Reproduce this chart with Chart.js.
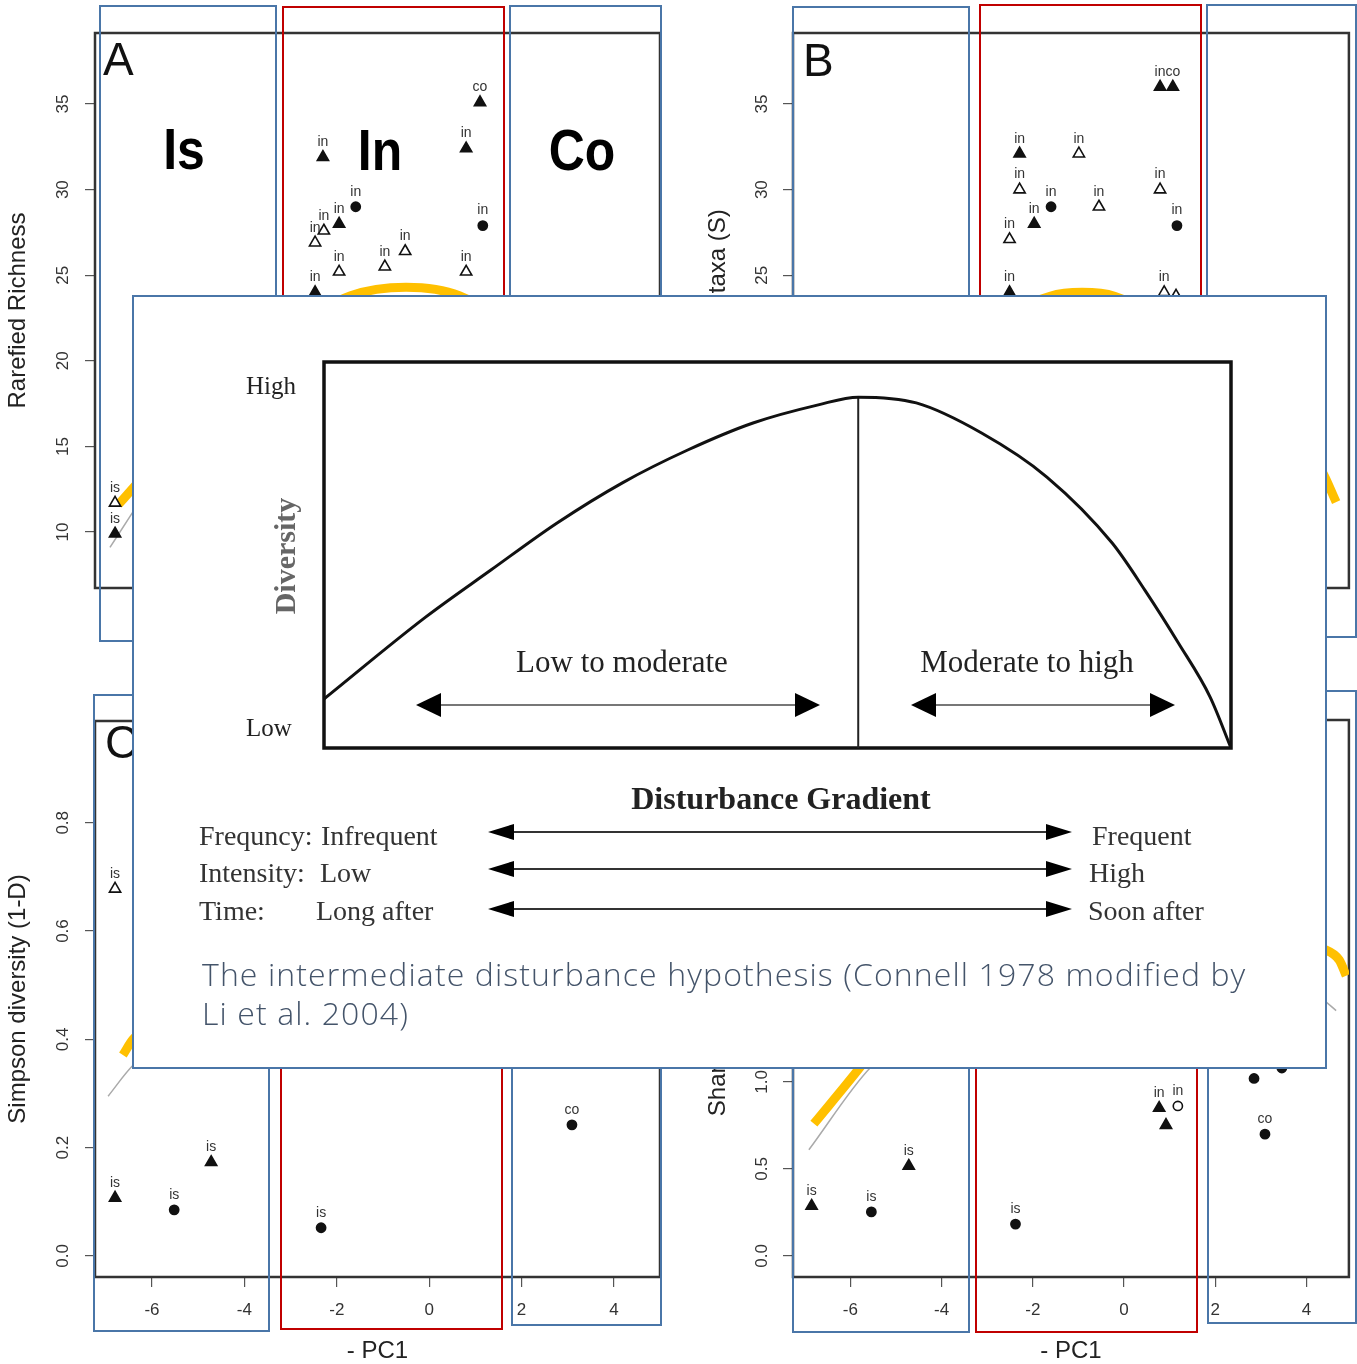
<!DOCTYPE html>
<html lang="en">
<head>
<meta charset="UTF-8">
<title>Intermediate disturbance hypothesis</title>
<script src="https://cdn.jsdelivr.net/npm/chart.js"></script>
<style>
    body {
        margin: 0;
        width: 1357px;
        height: 1364px;
        overflow: hidden;
        position: relative;
        background: #fff;
        font-family: 'Liberation Sans', Arial, sans-serif;
    }
    canvas { position: absolute; }
    .panel { z-index: 1; }
    .box {
        position: absolute;
        box-sizing: border-box;
        border: 2.5px solid #4a76a8;
        z-index: 2;
    }
    .box.red { border-color: #c00000; }
    .t { position: absolute; white-space: nowrap; line-height: 1; transform: translateY(-50%); }
    .tc { transform: translate(-50%, -50%); }
    .big { z-index: 3; font-weight: bold; font-size: 58px; color: #000; transform: translate(-50%, -50%) scaleX(0.86); }
    .letter { position: absolute; z-index: 3; font-size: 46px; line-height: 1; color: #111; }
    #overlay {
        position: absolute;
        left: 132px; top: 295px; width: 1195px; height: 774px;
        box-sizing: border-box;
        border: 2.5px solid #4a76a8;
        background: #fff;
        z-index: 5;
    }
    #diagram { z-index: 6; }
    #arrows { position: absolute; left: 0; top: 0; z-index: 7; }
    .serif { font-family: 'Liberation Serif', 'Times New Roman', serif; color: #222; z-index: 8; }
    .cap { font-family: 'Open Sans', 'Noto Sans', sans-serif; font-weight: 300; font-size: 32px; letter-spacing: 1.1px; color: #44546a; z-index: 8; }
</style>
</head>
<body>
    <canvas id="panelA" class="panel" width="680" height="680" style="left:0;top:0"></canvas>
    <canvas id="panelB" class="panel" width="657" height="680" style="left:700px;top:0"></canvas>
    <canvas id="panelC" class="panel" width="680" height="686" style="left:0;top:680px"></canvas>
    <canvas id="panelD" class="panel" width="657" height="686" style="left:700px;top:680px"></canvas>

    <!-- Is / In / Co zone boxes -->
    <div class="box" style="left:99px;top:5px;width:178px;height:637px"></div>
    <div class="box red" style="left:282px;top:6px;width:223px;height:700px"></div>
    <div class="box" style="left:509px;top:5px;width:153px;height:700px"></div>
    <div class="box" style="left:792px;top:6px;width:178px;height:700px"></div>
    <div class="box red" style="left:979px;top:4px;width:223px;height:700px"></div>
    <div class="box" style="left:1206px;top:4px;width:151px;height:634px"></div>
    <div class="box" style="left:93px;top:694px;width:177px;height:638px"></div>
    <div class="box red" style="left:280px;top:900px;width:223px;height:430px"></div>
    <div class="box" style="left:511px;top:900px;width:151px;height:426px"></div>
    <div class="box" style="left:792px;top:900px;width:178px;height:433px"></div>
    <div class="box red" style="left:975px;top:900px;width:223px;height:433px"></div>
    <div class="box" style="left:1207px;top:690px;width:150px;height:634px"></div>

    <div class="t big" style="left:184px;top:149px">Is</div>
    <div class="t big" style="left:380px;top:150px">In</div>
    <div class="t big" style="left:582px;top:150px">Co</div>
    <div class="letter" style="left:103px;top:36px">A</div>
    <div class="letter" style="left:803px;top:37px">B</div>
    <div class="letter" style="left:105px;top:719px">C</div>

    <div id="overlay"></div>
    <canvas id="diagram" width="1193" height="772" style="left:133px;top:296px"></canvas>

    <svg id="arrows" width="1357" height="1364">
        <g stroke="#777" stroke-width="2">
            <line x1="440" y1="705" x2="795" y2="705"/>
            <line x1="936" y1="705" x2="1150" y2="705"/>
        </g>
        <g fill="#000">
            <polygon points="416,705 441,693 441,717"/>
            <polygon points="820,705 795,693 795,717"/>
            <polygon points="911,705 936,693 936,717"/>
            <polygon points="1175,705 1150,693 1150,717"/>
        </g>
        <g stroke="#333" stroke-width="2.2">
            <line x1="510" y1="832" x2="1050" y2="832"/>
            <line x1="510" y1="869" x2="1050" y2="869"/>
            <line x1="510" y1="909" x2="1050" y2="909"/>
        </g>
        <g fill="#000">
            <polygon points="488,832 514,824 514,840"/>
            <polygon points="1072,832 1046,824 1046,840"/>
            <polygon points="488,869 514,861 514,877"/>
            <polygon points="1072,869 1046,861 1046,877"/>
            <polygon points="488,909 514,901 514,917"/>
            <polygon points="1072,909 1046,901 1046,917"/>
        </g>
    </svg>

    <div class="t serif" style="left:246px;top:385px;font-size:25px">High</div>
    <div class="t serif" style="left:246px;top:727px;font-size:25px">Low</div>
    <div class="t serif" style="left:285px;top:556px;font-size:30px;font-weight:bold;color:#666;transform:translate(-50%,-50%) rotate(-90deg)">Diversity</div>
    <div class="t tc serif" style="left:622px;top:661px;font-size:31px">Low to moderate</div>
    <div class="t tc serif" style="left:1027px;top:661px;font-size:31px">Moderate to high</div>
    <div class="t tc serif" style="left:781px;top:798px;font-size:32px;font-weight:bold">Disturbance Gradient</div>
    <div class="t serif" style="left:199px;top:836px;font-size:28px;color:#333">Frequncy:</div>
    <div class="t serif" style="left:321px;top:836px;font-size:28px;color:#333">Infrequent</div>
    <div class="t serif" style="left:199px;top:873px;font-size:28px;color:#333">Intensity:</div>
    <div class="t serif" style="left:320px;top:873px;font-size:28px;color:#333">Low</div>
    <div class="t serif" style="left:199px;top:911px;font-size:28px;color:#333">Time:</div>
    <div class="t serif" style="left:316px;top:911px;font-size:28px;color:#333">Long after</div>
    <div class="t serif" style="left:1092px;top:836px;font-size:28px;color:#333">Frequent</div>
    <div class="t serif" style="left:1089px;top:873px;font-size:28px;color:#333">High</div>
    <div class="t serif" style="left:1088px;top:911px;font-size:28px;color:#333">Soon after</div>
    <div class="t cap" style="left:202px;top:974px">The intermediate disturbance hypothesis (Connell 1978 modified by</div>
    <div class="t cap" style="left:202px;top:1013px">Li et al. 2004)</div>

<script>
    // tick values
    const xTicks = [-6, -4, -2, 0, 2, 4];
    const richTicks = [10, 15, 20, 25, 30, 35];
    const simpTicks = [0, 0.2, 0.4, 0.6, 0.8];
    const shanTicks = [0, 0.5, 1, 1.5, 2, 2.5, 3];

    // marker codes: T filled triangle, t open triangle, C filled circle, c open circle
    // A - rarefied richness
    const aX = [1.10, 0.80, -2.30, -1.59, -1.95, -2.28, -2.47, 1.16, -1.95, -0.96, -0.52, 0.80, -2.47, -6.80, -6.80];
    const aY = [35.1, 32.4, 31.9, 29.0, 28.0, 27.6, 26.9, 27.9, 25.2, 25.5, 26.4, 25.2, 24.0, 11.7, 9.9];
    const aMark = ['T', 'T', 'T', 'C', 'T', 't', 't', 'C', 't', 't', 't', 't', 'T', 't', 'T'];
    const aLab = ['co', 'in', 'in', 'in', 'in', 'in', 'in', 'in', 'in', 'in', 'in', 'in', 'in', 'is', 'is'];
    const aFitX = [-6.73, -6.40, -4.5, -3.0, -1.7, -0.5, 0.65, 2.5, 4.5];
    const aFitY = [11.6, 12.6, 18.3, 21.8, 23.8, 24.3, 23.8, 20.5, 14.0];
    const aLinX = [-6.91, -6.43, -4.0];
    const aLinY = [9.1, 11.1, 21.0];

    // B - number of taxa
    const bX = [0.79, 1.07, -2.29, -0.99, -2.29, -1.60, -1.97, -0.55, 0.79, 1.16, -2.51, -2.51, 0.88, 1.14];
    const bY = [36.0, 36.0, 32.1, 32.1, 30.0, 29.0, 28.0, 29.0, 30.0, 27.9, 27.1, 24.0, 24.0, 23.8];
    const bMark = ['T', 'T', 'T', 't', 't', 'C', 'T', 't', 't', 'C', 't', 'T', 't', 't'];
    const bLab = ['in', 'co', 'in', 'in', 'in', 'in', 'in', 'in', 'in', 'in', 'in', 'in', 'in', ''];
    const bFitX = [-6.8, -4.0, -1.62, -0.92, -0.21, 2.0, 3.6, 4.35, 4.65];
    const bFitY = [11.0, 20.5, 23.77, 24.0, 23.77, 20.5, 16.5, 13.5, 11.75];

    // C - Simpson diversity
    const cX = [-6.80, -6.80, -5.52, -4.72, -2.34, 3.09];
    const cY = [0.678, 0.107, 0.085, 0.173, 0.052, 0.242];
    const cMark = ['t', 'T', 'C', 'T', 'C', 'C'];
    const cLab = ['is', 'is', 'is', 'is', 'is', 'co'];
    const cFitX = [-6.63, -6.41, -4.5];
    const cFitY = [0.371, 0.400, 0.52];
    const cLinX = [-6.95, -6.41, -4.0];
    const cLinY = [0.295, 0.352, 0.50];

    // D - Shannon diversity
    const dX = [-6.85, -5.54, -4.72, -2.38, 0.77, 1.18, 0.92, 3.09, 2.85, 3.46];
    const dY = [0.287, 0.253, 0.517, 0.183, 0.85, 0.862, 0.752, 0.70, 1.02, 1.08];
    const dMark = ['T', 'C', 'T', 'C', 'T', 'c', 'T', 'C', 'C', 'C'];
    const dLab = ['is', 'is', 'is', 'is', 'in', 'in', '', 'co', '', ''];
    const dFitX = [-6.8, -5.8, -4.0, -1.0, 2.0, 4.33, 4.72, 4.87];
    const dFitY = [0.76, 1.08, 1.70, 2.20, 2.10, 1.77, 1.70, 1.61];
    const dLinX = [-6.91, -5.57, -3.0, 0.0, 3.0, 4.33, 4.65];
    const dLinY = [0.61, 1.08, 1.60, 1.85, 1.70, 1.48, 1.41];

    // conceptual diagram: diversity along the disturbance gradient (0-100)
    const gradX = [0, 11.2, 18.4, 25.7, 32.9, 40.1, 47.3, 54.5, 58.9, 65.3, 72.5, 79.7, 86.9, 90.5, 94.2, 97.7, 100];
    const divY = [12.7, 33.9, 46.1, 58.3, 68.7, 77.2, 84.2, 88.9, 90.9, 89.4, 81.6, 70.2, 53.1, 40.9, 27.2, 13.2, 0];
    const peakX = [58.9, 58.9];
    const peakY = [0, 90.9];

    Chart.defaults.font.family = "'Liberation Sans', Arial, sans-serif";

    const MARK = {
        T: ['triangle', '#111', 6.5],
        t: ['triangle', '#fff', 6.5],
        C: ['circle', '#111', 4.6],
        c: ['circle', '#fff', 4.6]
    };

    function pts(xs, ys) {
        return xs.map((x, i) => ({ x: x, y: ys[i] }));
    }

    // box around the plot region, R style
    const framePlugin = {
        id: 'frame',
        beforeDatasetsDraw(chart, args, opts) {
            const { ctx, chartArea: a } = chart;
            ctx.save();
            ctx.strokeStyle = opts.color || '#333';
            ctx.lineWidth = opts.width || 2.5;
            ctx.strokeRect(a.left, a.top, a.right - a.left, a.bottom - a.top);
            ctx.restore();
        }
    };

    // small site-type labels above each point
    const pointLabels = {
        id: 'ptlab',
        afterDatasetsDraw(chart, args, opts) {
            if (!opts.labels) return;
            const ctx = chart.ctx;
            const meta = chart.getDatasetMeta(0);
            ctx.save();
            ctx.font = "14px 'Liberation Sans', Arial, sans-serif";
            ctx.fillStyle = '#333';
            ctx.textAlign = 'center';
            ctx.textBaseline = 'middle';
            meta.data.forEach((el, i) => {
                if (opts.labels[i]) ctx.fillText(opts.labels[i], el.x, el.y - 15);
            });
            ctx.restore();
        }
    };

    function panel(id, o) {
        const datasets = [{
            data: pts(o.xs, o.ys),
            pointStyle: o.marks.map(m => MARK[m][0]),
            pointBackgroundColor: o.marks.map(m => MARK[m][1]),
            pointRadius: o.marks.map(m => MARK[m][2]),
            pointBorderColor: '#111',
            pointBorderWidth: 1.6,
            showLine: false
        }];
        o.curves.forEach(c => {
            datasets.push({
                data: pts(c.xs, c.ys),
                showLine: true,
                borderColor: c.color,
                borderWidth: c.width,
                pointRadius: 0,
                cubicInterpolationMode: 'monotone'
            });
        });

        new Chart(document.getElementById(id), {
            type: 'scatter',
            data: { datasets: datasets },
            options: {
                responsive: false,
                maintainAspectRatio: false,
                animation: false,
                events: [],
                layout: { padding: o.pad },
                plugins: {
                    legend: { display: false },
                    tooltip: { enabled: false },
                    frame: { color: '#333', width: 2.5 },
                    ptlab: { labels: o.labs }
                },
                scales: {
                    x: {
                        type: 'linear',
                        min: o.xMin,
                        max: o.xMax,
                        afterBuildTicks: s => { s.ticks = xTicks.map(v => ({ value: v })); },
                        afterFit: s => { s.height = o.xH; },
                        grid: { drawOnChartArea: false, drawTicks: true, tickLength: 10, color: '#555', lineWidth: 1.2 },
                        border: { display: false },
                        ticks: { color: '#333', font: { size: 17 }, padding: 13, maxRotation: 0, autoSkip: false, callback: v => String(v) },
                        title: { display: true, text: '- PC1', color: '#222', font: { size: 24 }, padding: 0 }
                    },
                    y: {
                        type: 'linear',
                        min: o.yMin,
                        max: o.yMax,
                        afterBuildTicks: s => { s.ticks = o.yTicks.map(v => ({ value: v })); },
                        afterFit: s => { s.width = o.yW; },
                        grid: { drawOnChartArea: false, drawTicks: true, tickLength: 10, color: '#555', lineWidth: 1.2 },
                        border: { display: false },
                        ticks: {
                            color: '#333', font: { size: 17 }, padding: o.yPad,
                            minRotation: 90, maxRotation: 90, crossAlign: 'center', autoSkip: false,
                            callback: v => v.toFixed(o.yDec)
                        },
                        title: { display: true, text: o.yTitle, color: '#222', font: { size: 24 }, padding: { top: 3.6, bottom: 0 } }
                    }
                }
            },
            plugins: [framePlugin, pointLabels]
        });
    }

    const YELLOW = '#ffc000';
    const GREY = '#aaa';

    panel('panelA', {
        xs: aX, ys: aY, marks: aMark, labs: aLab,
        curves: [
            { xs: aLinX, ys: aLinY, color: GREY, width: 1.5 },
            { xs: aFitX, ys: aFitY, color: YELLOW, width: 9 }
        ],
        xMin: -7.234, xMax: 4.996, yMin: 6.73, yMax: 39.15, yTicks: richTicks, yDec: 0,
        yTitle: 'Rarefied Richness',
        pad: { left: 0, top: 33, right: 20, bottom: 0 }, yW: 95, xH: 92, yPad: 12
    });

    panel('panelB', {
        xs: bX, ys: bY, marks: bMark, labs: bLab,
        curves: [
            { xs: bFitX, ys: bFitY, color: YELLOW, width: 9 }
        ],
        xMin: -7.258, xMax: 4.93, yMin: 6.73, yMax: 39.15, yTicks: richTicks, yDec: 0,
        yTitle: 'Number of taxa (S)',
        pad: { left: 0, top: 33, right: 2, bottom: 0 }, yW: 93, xH: 92, yPad: 11.5
    });

    panel('panelC', {
        xs: cX, ys: cY, marks: cMark, labs: cLab,
        curves: [
            { xs: cLinX, ys: cLinY, color: GREY, width: 1.5 },
            { xs: cFitX, ys: cFitY, color: YELLOW, width: 9 }
        ],
        xMin: -7.234, xMax: 4.996, yMin: -0.039, yMax: 0.988, yTicks: simpTicks, yDec: 1,
        yTitle: 'Simpson diversity (1-D)',
        pad: { left: 0, top: 41, right: 20, bottom: 0 }, yW: 95, xH: 89, yPad: 9.7
    });

    panel('panelD', {
        xs: dX, ys: dY, marks: dMark, labs: dLab,
        curves: [
            { xs: dLinX, ys: dLinY, color: GREY, width: 1.5 },
            { xs: dFitX, ys: dFitY, color: YELLOW, width: 9 }
        ],
        xMin: -7.258, xMax: 4.93, yMin: -0.121, yMax: 3.08, yTicks: shanTicks, yDec: 1,
        yTitle: "Shannon diversity (H')",
        pad: { left: 0, top: 40, right: 2, bottom: 0 }, yW: 93, xH: 89, yPad: 9.2
    });

    // hump-shaped diversity curve
    new Chart(document.getElementById('diagram'), {
        type: 'scatter',
        data: {
            datasets: [
                {
                    data: pts(gradX, divY),
                    showLine: true,
                    borderColor: '#111',
                    borderWidth: 3,
                    pointRadius: 0,
                    cubicInterpolationMode: 'monotone'
                },
                {
                    data: pts(peakX, peakY),
                    showLine: true,
                    borderColor: '#222',
                    borderWidth: 2,
                    pointRadius: 0
                }
            ]
        },
        options: {
            responsive: false,
            maintainAspectRatio: false,
            animation: false,
            events: [],
            layout: { padding: { left: 191, top: 66, right: 95, bottom: 320 } },
            plugins: {
                legend: { display: false },
                tooltip: { enabled: false },
                frame: { color: '#111', width: 3.5 }
            },
            scales: {
                x: { type: 'linear', min: 0, max: 100, display: false },
                y: { type: 'linear', min: 0, max: 100, display: false }
            }
        },
        plugins: [framePlugin]
    });
</script>
</body>
</html>
